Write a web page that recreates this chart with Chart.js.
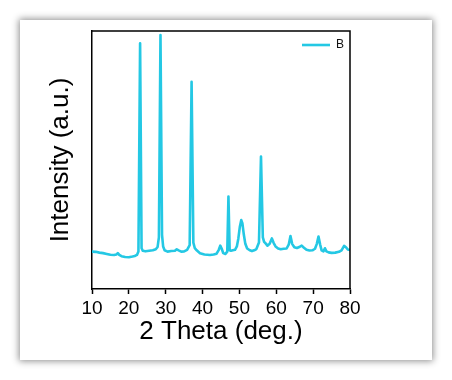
<!DOCTYPE html>
<html>
<head>
<meta charset="utf-8">
<script src="https://cdn.jsdelivr.net/npm/chart.js@4/dist/chart.umd.min.js"></script>
<style>
  html, body { margin: 0; padding: 0; background: #ffffff; width: 452px; height: 380px; overflow: hidden; }
  #card { position: absolute; left: 20px; top: 20px; width: 412px; height: 340px; background: #fff;
          box-shadow: 0 0 7px 1px rgba(0,0,0,0.45); }
  #c { display: block; }
</style>
</head>
<body>
<div id="card"><canvas id="c" width="412" height="340"></canvas></div>
<script>
// 2 Theta positions (deg.)
const angles = [
  10.0, 11.0, 12.0, 13.0, 14.0, 15.0, 16.0, 16.6, 17.0, 17.4, 18.0, 19.0, 20.0, 21.0, 21.6, 22.2,
  22.6, 23.05, 23.45, 23.8, 24.5, 25.5, 26.5, 27.3, 27.8, 28.15,
  28.58, 29.0, 29.3, 29.7, 30.5, 31.5, 32.5, 33.0, 33.5, 34.2,
  35.0, 35.8, 36.5, 37.02, 37.5, 37.9, 38.4, 39.3, 40.5,
  42.0, 43.0, 43.8, 44.4, 44.8, 45.2, 45.6, 46.2, 46.7, 47.02, 47.35,
  47.7, 48.2, 48.8, 49.3, 49.7, 50.1, 50.5, 50.8, 51.2, 51.6, 52.1, 52.8, 53.4, 54.0,
  54.6, 55.3, 55.85, 56.35, 56.7, 57.1, 57.6, 58.2, 58.8, 59.3, 59.8,
  60.5, 61.2, 62.0, 62.8, 63.4, 63.85, 64.3, 64.9, 65.6, 66.4, 66.9, 67.5, 68.2, 69.0,
  69.8, 70.5, 71.0, 71.45, 71.9, 72.3, 72.8, 73.2, 73.6, 74.2, 75.0, 76.0, 77.0, 77.7,
  78.4, 78.9, 79.4, 80.0
];
// Intensity (a.u.) (0-100 scale)
const intensity = [
  14.5, 14.4, 14.1, 13.9, 13.6, 13.3, 13.2, 13.4, 13.9, 13.2, 12.7, 12.4, 12.3, 12.6, 12.8, 13.2,
  14.5, 95.2, 15.8, 14.8, 14.6, 14.8, 15.0, 15.4, 16.3, 20,
  98.4, 21, 16.5, 15.0, 14.5, 14.7, 14.8, 15.4, 15.0, 14.5,
  14.6, 15.2, 17, 80.3, 18, 15.8, 15.0, 13.9, 13.4,
  13.2, 13.4, 13.7, 15.2, 16.8, 15.6, 13.9, 13.6, 14.5, 35.8, 15,
  14.8, 15.0, 15.2, 16.5, 19.5, 24, 26.7, 25.5, 21, 17.5, 15.7, 15.0, 14.7, 15.0,
  15.5, 18, 51.3, 20, 18.3, 17.7, 16.8, 17.5, 19.6, 17.8, 16.5,
  15.7, 15.4, 15.6, 15.7, 17.3, 20.5, 17.5, 16.2, 15.9, 16.4, 16.8, 16.0, 15.2, 14.9,
  15.0, 15.6, 17.5, 20.3, 17.2, 15.0, 14.6, 15.8, 14.6, 14.2, 14.0, 14.1, 14.4, 15.0,
  16.7, 16.2, 15.3, 15.1
];
const seriesName = 'B';
const xTitle = '2 Theta (deg.)';
const yTitle = 'Intensity (a.u.)';
const xMin = 10, xMax = 80, xStep = 10;

const lineColor = 'rgb(36,200,228)';
const FONT = "'Liberation Sans', Arial, Helvetica, sans-serif";

const framePlugin = {
  id: 'frame',
  afterLayout(chart) {
    const lg = chart.legend;
    if (!lg) return;
    const a = chart.chartArea;
    const pad = chart.options.plugins.legend.labels.padding;
    const w = lg.width, h = lg.height;
    lg.left = a.right - 48 - pad;
    lg.right = lg.left + w;
    lg.top = a.top + 14 - 6 - pad;
    lg.bottom = lg.top + h;
  },
  afterDraw(chart) {
    const {ctx, chartArea: a} = chart;
    ctx.save();
    ctx.strokeStyle = '#000';
    ctx.lineWidth = 1.5;
    ctx.beginPath();
    ctx.moveTo(a.left, a.top);
    ctx.lineTo(a.right, a.top);
    ctx.lineTo(a.right, a.bottom);
    ctx.stroke();
    ctx.restore();
  }
};

new Chart(document.getElementById('c'), {
  type: 'line',
  data: {
    datasets: [{
      label: seriesName,
      data: angles.map((x, i) => ({x, y: intensity[i]})),
      borderColor: lineColor,
      backgroundColor: lineColor,
      borderWidth: 2.6,
      pointRadius: 0,
      tension: 0,
      borderJoinStyle: 'round',
      fill: false
    }]
  },
  options: {
    responsive: false,
    animation: false,
    layout: { padding: { left: 0, top: 11, right: 82, bottom: 0 } },
    plugins: {
      legend: {
        position: 'chartArea',
        align: 'start',
        labels: {
          usePointStyle: true,
          pointStyle: 'line',
          pointStyleWidth: 28,
          padding: 10,
          color: '#111',
          font: { family: FONT, size: 12 }
        }
      },
      tooltip: { enabled: false }
    },
    scales: {
      x: {
        type: 'linear',
        min: xMin, max: xMax,
        afterFit(s) { s.height = 71; },
        ticks: { stepSize: xStep, color: '#000', padding: 3, maxRotation: 0,
                 font: { family: FONT, size: 19 } },
        grid: { display: true, drawOnChartArea: false, drawTicks: true, tickLength: 5,
                tickColor: '#000', tickWidth: 1.5 },
        border: { display: true, color: '#000', width: 1.5 },
        title: { display: true, text: xTitle, color: '#000',
                 font: { family: FONT, size: 26 }, padding: { top: 0, bottom: 12.5 } }
      },
      y: {
        type: 'linear',
        min: 0, max: 100,
        afterFit(s) { s.width = 72; },
        ticks: { display: false },
        grid: { display: false },
        border: { display: true, color: '#000', width: 1.5 },
        title: { display: true, text: yTitle, color: '#000',
                 font: { family: FONT, size: 26 }, padding: { top: 25, bottom: 0 } }
      }
    }
  },
  plugins: [framePlugin]
});
</script>
</body>
</html>
